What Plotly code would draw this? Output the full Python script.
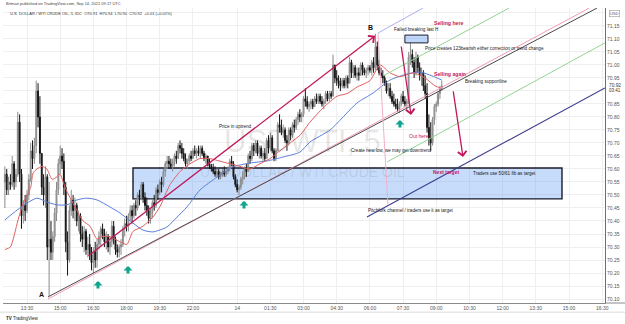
import plotly.graph_objects as go

# ---------------- data (5-minute bars, x = bar number) ----------------
first_open = 70.55
close = [
    70.58, 70.52, 70.55, 70.54, 70.62, 70.55, 70.58, 70.78, 70.58, 70.42,
    70.46, 70.44, 70.50, 70.56, 70.67, 70.64, 70.69, 70.90, 70.80, 70.66,
    70.53, 70.50, 70.57, 70.30, 70.33, 70.28, 70.34, 70.43, 70.52, 70.62,
    70.65, 70.63, 70.53, 70.32, 70.25, 70.44, 70.48, 70.44, 70.46, 70.40,
    70.42, 70.35, 70.33, 70.36, 70.29, 70.31, 70.27, 70.24, 70.28, 70.25,
    70.31, 70.34, 70.37, 70.35, 70.32, 70.34, 70.30, 70.32, 70.38, 70.33,
    70.29, 70.28, 70.30, 70.31, 70.37, 70.39, 70.38, 70.42, 70.44, 70.42,
    70.46, 70.45, 70.50, 70.49, 70.54, 70.49, 70.46, 70.44, 70.41, 70.43,
    70.47, 70.46, 70.52, 70.51, 70.55, 70.54, 70.59, 70.62, 70.63, 70.62,
    70.61, 70.63, 70.65, 70.64, 70.69, 70.68, 70.66, 70.64, 70.62, 70.63,
    70.65, 70.64, 70.67, 70.66, 70.67, 70.66, 70.68, 70.66, 70.64, 70.65,
    70.62, 70.61, 70.60, 70.59, 70.58, 70.59, 70.57, 70.58, 70.59, 70.58,
    70.59, 70.60, 70.63, 70.62, 70.57, 70.54, 70.52, 70.53, 70.56, 70.57,
    70.60, 70.59, 70.65, 70.64, 70.69, 70.67, 70.70, 70.66, 70.68, 70.65,
    70.66, 70.64, 70.71, 70.68, 70.72, 70.67, 70.64, 70.67, 70.77, 70.76,
    70.74, 70.75, 70.71, 70.70, 70.75, 70.73, 70.77, 70.76, 70.79, 70.81,
    70.80, 70.81, 70.87, 70.86, 70.84, 70.85, 70.86, 70.84, 70.87, 70.86,
    70.88, 70.86, 70.85, 70.86, 70.89, 70.87, 70.89, 70.88, 71.00, 70.95,
    70.94, 70.93, 70.92, 70.94, 70.92, 70.95, 70.93, 71.01, 70.97, 70.99,
    70.96, 70.97, 70.96, 71.00, 70.98, 70.97, 70.98, 70.99, 70.98, 71.01,
    70.99, 71.07, 71.00, 70.97, 70.96, 70.95, 70.93, 70.90, 70.91, 70.88,
    70.86, 70.85, 70.84, 70.83, 70.85, 70.88, 70.86, 70.85, 70.86, 71.03,
    71.04, 71.01, 70.97, 71.03, 70.99, 70.96, 70.97, 70.92, 70.89, 70.76,
    70.72, 70.70, 70.79, 70.84, 70.85, 70.89, 70.91, 70.92,
]
high = [
    70.61, 70.60, 70.57, 70.58, 70.65, 70.63, 70.60, 70.82, 70.81, 70.60,
    70.48, 70.50, 70.52, 70.58, 70.70, 70.71, 70.72, 70.94, 70.93, 70.88,
    70.66, 70.58, 70.61, 70.58, 70.55, 70.40, 70.36, 70.45, 70.55, 70.64,
    70.69, 70.68, 70.66, 70.55, 70.36, 70.46, 70.52, 70.50, 70.49, 70.47,
    70.44, 70.43, 70.38, 70.38, 70.37, 70.34, 70.35, 70.30, 70.30, 70.32,
    70.33, 70.36, 70.38, 70.39, 70.37, 70.36, 70.35, 70.34, 70.40, 70.40,
    70.34, 70.31, 70.31, 70.33, 70.38, 70.41, 70.42, 70.43, 70.46, 70.46,
    70.47, 70.48, 70.51, 70.52, 70.55, 70.55, 70.51, 70.49, 70.46, 70.45,
    70.48, 70.50, 70.53, 70.54, 70.56, 70.57, 70.60, 70.63, 70.65, 70.65,
    70.64, 70.64, 70.66, 70.67, 70.70, 70.71, 70.70, 70.68, 70.66, 70.64,
    70.66, 70.67, 70.68, 70.69, 70.68, 70.69, 70.69, 70.69, 70.67, 70.66,
    70.65, 70.64, 70.62, 70.62, 70.61, 70.60, 70.60, 70.59, 70.60, 70.61,
    70.60, 70.61, 70.64, 70.65, 70.63, 70.58, 70.56, 70.54, 70.57, 70.59,
    70.61, 70.62, 70.66, 70.67, 70.70, 70.70, 70.71, 70.71, 70.69, 70.69,
    70.67, 70.68, 70.72, 70.73, 70.74, 70.73, 70.68, 70.68, 70.78, 70.81,
    70.79, 70.77, 70.76, 70.73, 70.76, 70.76, 70.78, 70.79, 70.80, 70.82,
    70.83, 70.82, 70.88, 70.91, 70.88, 70.86, 70.87, 70.87, 70.88, 70.89,
    70.89, 70.89, 70.88, 70.87, 70.90, 70.90, 70.90, 70.90, 71.04, 71.00,
    70.98, 70.96, 70.95, 70.95, 70.95, 70.96, 70.96, 71.03, 71.02, 71.00,
    71.00, 70.99, 70.99, 71.01, 71.01, 70.99, 70.99, 71.00, 71.00, 71.02,
    71.03, 71.12, 71.09, 71.02, 70.99, 70.98, 70.96, 70.94, 70.93, 70.93,
    70.90, 70.89, 70.87, 70.87, 70.86, 70.89, 70.90, 70.88, 70.87, 71.05,
    71.085, 71.06, 71.03, 71.05, 71.04, 71.01, 70.99, 70.98, 70.96, 70.93,
    70.81, 70.78, 70.80, 70.85, 70.86, 70.90, 70.92, 70.94,
]
low = [
    70.45, 70.50, 70.50, 70.52, 70.53, 70.52, 70.53, 70.57, 70.55, 70.37,
    70.39, 70.40, 70.43, 70.48, 70.55, 70.60, 70.62, 70.66, 70.76, 70.62,
    70.50, 70.46, 70.45, 70.25, 70.11, 70.25, 70.25, 70.32, 70.40, 70.50,
    70.58, 70.60, 70.50, 70.28, 70.19, 70.24, 70.42, 70.41, 70.40, 70.38,
    70.36, 70.32, 70.30, 70.28, 70.27, 70.26, 70.25, 70.21, 70.20, 70.22,
    70.22, 70.29, 70.30, 70.33, 70.30, 70.29, 70.28, 70.27, 70.30, 70.31,
    70.27, 70.26, 70.26, 70.27, 70.30, 70.34, 70.36, 70.36, 70.40, 70.39,
    70.41, 70.42, 70.44, 70.46, 70.48, 70.47, 70.44, 70.42, 70.39, 70.39,
    70.41, 70.44, 70.45, 70.48, 70.50, 70.51, 70.53, 70.57, 70.60, 70.60,
    70.60, 70.59, 70.61, 70.62, 70.64, 70.66, 70.64, 70.63, 70.61, 70.60,
    70.62, 70.63, 70.64, 70.65, 70.64, 70.65, 70.64, 70.65, 70.63, 70.62,
    70.61, 70.60, 70.59, 70.58, 70.57, 70.57, 70.56, 70.56, 70.57, 70.57,
    70.57, 70.58, 70.59, 70.61, 70.56, 70.53, 70.51, 70.50, 70.52, 70.54,
    70.56, 70.57, 70.59, 70.62, 70.63, 70.65, 70.66, 70.65, 70.64, 70.64,
    70.63, 70.63, 70.64, 70.66, 70.67, 70.66, 70.63, 70.63, 70.67, 70.74,
    70.73, 70.72, 70.70, 70.67, 70.69, 70.71, 70.72, 70.74, 70.75, 70.77,
    70.78, 70.78, 70.80, 70.84, 70.83, 70.82, 70.83, 70.83, 70.84, 70.85,
    70.85, 70.85, 70.84, 70.83, 70.85, 70.86, 70.86, 70.87, 70.88, 70.93,
    70.92, 70.91, 70.90, 70.91, 70.91, 70.91, 70.91, 70.93, 70.95, 70.95,
    70.95, 70.94, 70.94, 70.96, 70.96, 70.96, 70.95, 70.96, 70.97, 70.96,
    70.97, 70.98, 70.98, 70.96, 70.95, 70.93, 70.92, 70.89, 70.88, 70.87,
    70.85, 70.84, 70.83, 70.82, 70.815, 70.84, 70.85, 70.84, 70.83, 70.85,
    71.00, 70.99, 70.95, 70.96, 70.97, 70.94, 70.92, 70.90, 70.87, 70.74,
    70.69, 70.67, 70.69, 70.77, 70.82, 70.84, 70.87, 70.90,
]
bar_index = list(range(len(close)))
open_ = [first_open] + close[:-1]

# moving averages (bar number, price)
ma_fast_bar = [0, 3, 7, 10, 14, 15.3, 17.4, 20.1, 22.8, 25.6, 28.3, 29.9, 32.6, 35.3,
               39.1, 42.4, 46.2, 50, 52.7, 57, 62.4, 66.2, 69.5, 74.9, 80.3, 84.1,
               89.6, 95, 100.4, 105.8, 111.3, 116.7, 122.1, 127.5, 133, 138.4, 143.8,
               149.2, 154.7, 160.1, 165.5, 172.6, 180.2, 185.6, 191, 198.1, 203.5,
               208.9, 214.3, 221.4, 227.9, 233.3, 237]
ma_fast_val = [70.29, 70.30, 70.40, 70.47, 70.53, 70.585, 70.60, 70.61, 70.60, 70.56,
               70.57, 70.58, 70.53, 70.49, 70.44, 70.40, 70.38, 70.33, 70.34, 70.34,
               70.32, 70.31, 70.36, 70.38, 70.415, 70.455, 70.54, 70.59, 70.62, 70.64,
               70.64, 70.63, 70.62, 70.61, 70.60, 70.62, 70.64, 70.67, 70.70, 70.73,
               70.78, 70.835, 70.88, 70.89, 70.915, 70.94, 71.00, 70.97, 70.955, 70.97,
               70.95, 70.92, 70.91]
ma_slow_bar = [0, 6.6, 12, 17.4, 22.8, 28.3, 33.7, 39.1, 44.5, 50, 57, 62.4, 69.5, 74.9,
               80.3, 87.9, 93.4, 98.8, 105.8, 115.1, 123.7, 133, 142.2, 150.9, 160.1,
               165.5, 176.4, 191, 199.7, 208.9, 218.1, 225.2, 231.7, 237]
ma_slow_val = [70.404, 70.442, 70.469, 70.488, 70.473, 70.462, 70.462, 70.481, 70.488,
               70.481, 70.454, 70.431, 70.392, 70.365, 70.358, 70.377, 70.415, 70.454,
               70.519, 70.569, 70.608, 70.623, 70.631, 70.646, 70.665, 70.704, 70.75,
               70.854, 70.892, 70.942, 70.965, 70.973, 70.958, 70.942]

# axis ticks
time_tick_bar = [12, 30, 48, 66, 84, 102, 126, 144, 162, 180, 198, 216, 234, 252, 270, 288, 306, 324]
time_tick_text = ["13:30", "15:00", "16:30", "18:00", "19:30", "22:00", "14", "01:30", "03:00",
                  "04:30", "06:00", "07:30", "09:00", "10:30", "12:00", "13:30", "15:00", "16:30"]
price_ticks = [70.10, 70.15, 70.20, 70.25, 70.30, 70.35, 70.40, 70.45, 70.50, 70.55, 70.60,
               70.65, 70.70, 70.75, 70.80, 70.85, 70.90, 70.95, 71.00, 71.05, 71.10, 71.15, 71.20]
price_tick_text = ["70.10", "70.15", "70.20", "70.25", "70.30", "70.35", "70.40", "70.45",
                   "70.50", "70.55", "70.60", "70.65", "70.70", "70.75", "70.80", "70.85", "",
                   "70.95", "71.00", "71.05", "71.10", "71.15", ""]

# green "buy" arrow marks (bar number, price at arrow tip)
arrow_bar = [50.5, 66.8, 129.7, 214.3]
arrow_price = [70.169, 70.227, 70.477, 70.788]

# ---------------- figure ----------------
FONT = "Liberation Sans"
CRIMSON = "#c2185b"

fig = go.Figure()
fig.add_trace(go.Candlestick(
    x=bar_index, open=open_, high=high, low=low, close=close,
    increasing=dict(line=dict(color="#8a8a8a", width=1), fillcolor="#b4b4b4"),
    decreasing=dict(line=dict(color="#141414", width=1), fillcolor="#141414"),
    whiskerwidth=0, showlegend=False, hoverinfo="skip"))
fig.add_trace(go.Scatter(x=ma_slow_bar, y=ma_slow_val, mode="lines",
                         line=dict(color="#5b7ed8", width=1, shape="spline", smoothing=0.6),
                         showlegend=False, hoverinfo="skip"))
fig.add_trace(go.Scatter(x=ma_fast_bar, y=ma_fast_val, mode="lines",
                         line=dict(color="#e06060", width=1, shape="spline", smoothing=0.6),
                         showlegend=False, hoverinfo="skip"))

shapes = []
# demand zone and small "last high" box
shapes.append(dict(type="rect", xref="x", yref="y", x0=69.5, x1=302.2, y0=70.485, y1=70.604,
                   fillcolor="rgba(70,140,240,0.30)", line=dict(color="#1b1b2a", width=1.4),
                   layer="between"))
shapes.append(dict(type="rect", xref="x", yref="y", x0=217.0, x1=229.5, y0=71.085, y1=71.115,
                   fillcolor="rgba(70,140,240,0.35)", line=dict(color="#1b1b2a", width=1),
                   layer="above"))

def seg(x0, y0, x1, y1, color, width=1):
    shapes.append(dict(type="line", xref="x", yref="y", x0=x0, y0=y0, x1=x1, y1=y1,
                       line=dict(color=color, width=width), layer="above"))

# pitchfork
seg(23.4, 70.100, 317.0, 71.219, "#f09ab8", 1)      # pink trend line
seg(23.4, 70.108, 321.2, 71.219, "#4a4a4a", 1)      # median line
seg(196.4, 70.415, 325.5, 70.912, "#3b3b8f", 1.1)   # lower parallel (pitchfork channel)
seg(207.3, 70.627, 325.5, 71.085, "#94d494", 1)     # lower 0.5 level
seg(205.1, 70.958, 273.5, 71.219, "#94d494", 1)     # upper 0.5 level
seg(202.4, 71.123, 226.8, 71.219, "#a9b0f2", 1)     # upper parallel
seg(202.4, 71.123, 207.8, 70.462, "#f4b0c8", 1)     # B-C line

annotations = []

def arrow(tx, ty, hx, hy):
    annotations.append(dict(x=hx, y=hy, ax=tx, ay=ty, xref="x", yref="y", axref="x", ayref="y",
                            showarrow=True, arrowhead=4, arrowsize=1.3, arrowwidth=1.3,
                            arrowcolor=CRIMSON, text=""))

arrow(44.5, 70.262, 200.8, 71.112)   # uptrend channel arrow to B
arrow(214.9, 71.077, 220.3, 70.808)  # selling here
arrow(243.1, 70.904, 248.5, 70.646)  # selling again

for bx, py in zip(arrow_bar, arrow_price):
    annotations.append(dict(x=bx, y=py, xref="x", yref="y", ax=0, ay=9, showarrow=True,
                            arrowhead=1, arrowsize=0.5, arrowwidth=3, arrowcolor="#10a58f",
                            text=""))

def label(text, bx, py, color="#1a1a1a", size=4.6, bold=False, anchor="left"):
    annotations.append(dict(x=bx, y=py, xref="x", yref="y", showarrow=False,
                            text=("<b>%s</b>" % text) if bold else text,
                            xanchor=anchor, yanchor="middle",
                            font=dict(family=FONT, size=size, color=color)))

label("Price in uptrend", 115.1, 70.762)
label("Create new low, we may get downtrend", 186.7, 70.673)
label("Failed breaking last H", 210.0, 71.138)
label("Selling here", 231.7, 71.162, CRIMSON, 5.2, True)
label("Price creates 123bearish either correction or trend change", 226.8, 71.065)
label("Selling again", 231.7, 70.965, CRIMSON, 5.2, True)
label("Breaking supportline", 248.5, 70.935)
label("Out here", 218.1, 70.727, CRIMSON, 5.0)
label("Next target", 231.2, 70.588, CRIMSON, 5.0, True)
label("Traders use 50/61 fib as target", 252.8, 70.581)
label("Pitchfork channel / traders use it as target", 195.9, 70.442)
label("B", 198.1, 71.146, "#111", 7, True, "center")
label("A", 20.1, 70.119, "#111", 7, True, "center")

def paper_text(text, x, y, size, color, anchor="left", family=FONT, **kw):
    d = dict(x=x, y=y, xref="paper", yref="paper", showarrow=False, text=text,
             xanchor=anchor, yanchor="middle", font=dict(family=family, size=size, color=color))
    d.update(kw)
    annotations.append(d)

# watermark
paper_text("USDWTI, 5", 0.498, 0.546, 31, "rgba(60,60,60,0.12)", "center")
paper_text("U.S. DOLLAR / WTI CRUDE OIL", 0.498, 0.444, 14, "rgba(60,60,60,0.12)", "center")
# header / footer
paper_text("Brtman published on TradingView.com, Sep 14, 2021 09:17 UTC", 0.002, 1.0136, 4, "#444")
paper_text("U.S. DOLLAR / WTI CRUDE OIL, 5, IDC  O70.91  H70.94  L70.90  C70.92  +0.01 (+0.01%)",
           0.008, 0.983, 4, "#333")
paper_text("<b>TV</b> TradingView", 0.002, -0.051, 4.5, "#222")
paper_text("USD", 1.006, 0.980, 4, "#555", bordercolor="#999", borderwidth=0.6, borderpad=0.5)
annotations.append(dict(x=1.004, y=70.92, xref="paper", yref="y", showarrow=False,
                        text="70.92", xanchor="left", yanchor="middle",
                        font=dict(family=FONT, size=4.8, color="#333")))
annotations.append(dict(x=1.004, y=70.92, xref="paper", yref="y", showarrow=False, yshift=-5,
                        text="03:41", xanchor="left", yanchor="middle",
                        font=dict(family=FONT, size=4.5, color="#333")))

# bottom line of the time scale
shapes.append(dict(type="line", xref="paper", yref="paper", x0=-0.005, x1=1.04, y0=-0.031, y1=-0.031,
                   line=dict(color="#dcdcdc", width=1)))
shapes.append(dict(type="line", xref="paper", yref="paper", x0=1.0, x1=1.04, y0=0, y1=0,
                   line=dict(color="#8a8a8a", width=1)))

fig.update_layout(
    width=625, height=324, autosize=False,
    margin=dict(l=3, r=20, t=8, b=21),
    paper_bgcolor="white", plot_bgcolor="white",
    font=dict(family=FONT, size=5, color="#555"),
    shapes=shapes, annotations=annotations, showlegend=False,
    xaxis=dict(range=[-1.02, 325.53], tickmode="array", tickvals=time_tick_bar,
               ticktext=time_tick_text, showgrid=True, gridcolor="#efefef", gridwidth=1,
               zeroline=False, showline=True, linecolor="#8a8a8a", linewidth=1, ticks="",
               tickfont=dict(size=5, color="#555"), rangeslider=dict(visible=False),
               fixedrange=True),
    yaxis=dict(range=[70.0846, 71.2192], side="right", tickmode="array", tickvals=price_ticks,
               ticktext=price_tick_text, showgrid=True, gridcolor="#efefef", gridwidth=1,
               zeroline=False, showline=True, linecolor="#6e6e6e", linewidth=1, ticks="",
               tickfont=dict(size=5, color="#555"), fixedrange=True),
)

fig.write_html("out.html")
